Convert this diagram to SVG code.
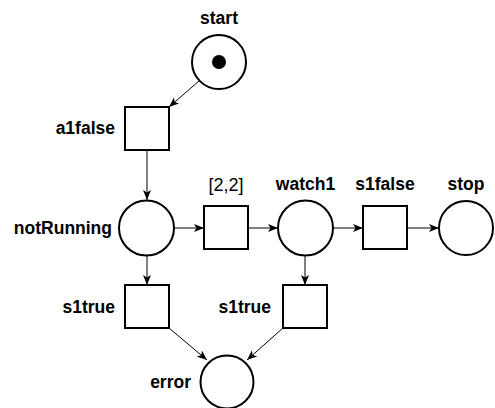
<svg xmlns="http://www.w3.org/2000/svg" width="495" height="408" viewBox="0 0 495 408">
  <style>
    .place { fill: #fff; stroke: #000; stroke-width: 2; }
    .trans { fill: #fff; stroke: #000; stroke-width: 2; }
    .lbl { font-family: "Liberation Sans", Arial, sans-serif; font-size: 17.5px; font-weight: bold; fill: #000; }
    .lbl-r { font-family: "Liberation Sans", Arial, sans-serif; font-size: 18px; fill: #000; }
    .arc { fill: none; stroke: #000; stroke-width: 1; marker-end: url(#arrow); }
  </style>
  <defs>
    <marker id="arrow" viewBox="0 0 10 8" refX="10" refY="4" markerWidth="10" markerHeight="8" markerUnits="userSpaceOnUse" orient="auto">
      <path d="M0,0 L10,4 L0,8 L2.5,4 Z" fill="#000"/>
    </marker>
  </defs>

  <g id="connectors">
    <line class="arc" x1="199" y1="81" x2="169" y2="107"/>
    <line class="arc" x1="147" y1="150" x2="147" y2="200"/>
    <line class="arc" x1="174" y1="228" x2="204" y2="228"/>
    <line class="arc" x1="248" y1="228" x2="278" y2="228"/>
    <line class="arc" x1="333" y1="228" x2="363" y2="228"/>
    <line class="arc" x1="407" y1="228" x2="439" y2="228"/>
    <line class="arc" x1="147" y1="256" x2="147" y2="285"/>
    <line class="arc" x1="305" y1="256" x2="305" y2="285"/>
    <line class="arc" x1="169" y1="328" x2="207" y2="360"/>
    <line class="arc" x1="283" y1="328" x2="247" y2="360"/>
  </g>

  <g id="start">
    <circle class="place" cx="219" cy="62" r="27"/>
    <circle cx="219" cy="62" r="7" fill="#000"/>
    <text class="lbl" x="219" y="24" text-anchor="middle">start</text>
  </g>

  <g id="a1false">
    <rect class="trans" x="125" y="107" width="44" height="43"/>
    <text class="lbl" x="115" y="134" text-anchor="end">a1false</text>
  </g>

  <g id="notRunning">
    <circle class="place" cx="146.5" cy="228" r="27.5"/>
    <text class="lbl" x="112" y="234" text-anchor="end">notRunning</text>
  </g>

  <g id="delay">
    <rect class="trans" x="204" y="206" width="44" height="43"/>
    <text class="lbl-r" x="226" y="191" text-anchor="middle">[2,2]</text>
  </g>

  <g id="watch1">
    <circle class="place" cx="305.5" cy="228" r="27.5"/>
    <text class="lbl" x="305.5" y="190" text-anchor="middle">watch1</text>
  </g>

  <g id="s1false">
    <rect class="trans" x="363" y="206" width="44" height="43"/>
    <text class="lbl" x="385" y="190" text-anchor="middle">s1false</text>
  </g>

  <g id="stop">
    <circle class="place" cx="466" cy="228" r="27"/>
    <text class="lbl" x="466" y="190" text-anchor="middle">stop</text>
  </g>

  <g id="s1true-left">
    <rect class="trans" x="125" y="285" width="44" height="43"/>
    <text class="lbl" x="115" y="313" text-anchor="end">s1true</text>
  </g>

  <g id="s1true-right">
    <rect class="trans" x="283" y="285" width="44" height="43"/>
    <text class="lbl" x="271" y="313" text-anchor="end">s1true</text>
  </g>

  <g id="error">
    <circle class="place" cx="227" cy="382" r="26.5"/>
    <text class="lbl" x="191" y="388" text-anchor="end">error</text>
  </g>
</svg>
